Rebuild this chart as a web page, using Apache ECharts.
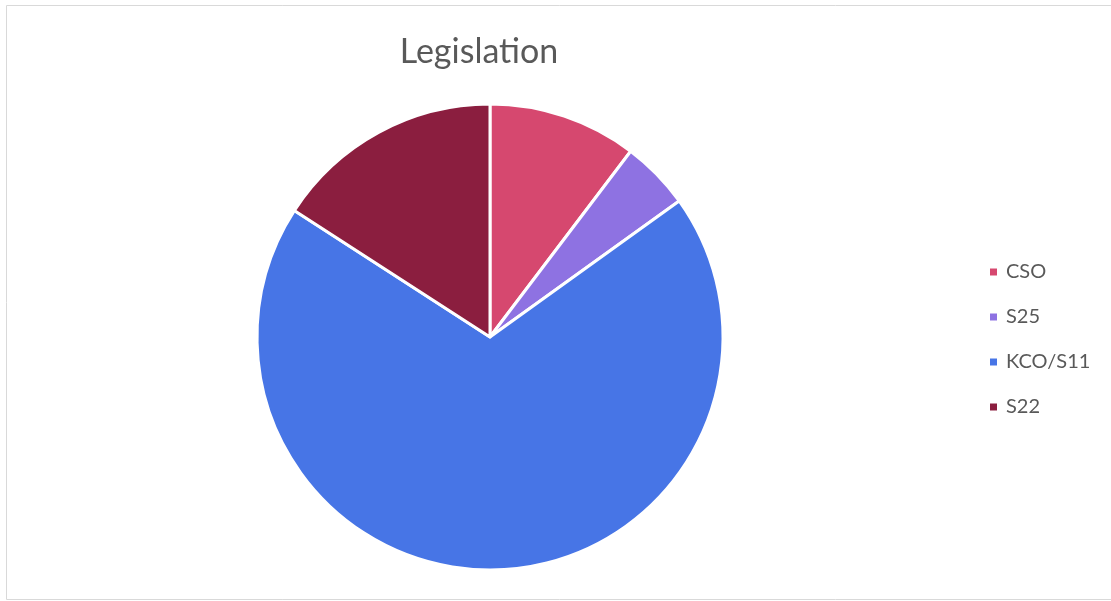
<!DOCTYPE html>
<html><head><meta charset="utf-8">
<script src="https://cdn.jsdelivr.net/npm/echarts@6/dist/echarts.min.js"></script>
<style>html,body{margin:0;padding:0;background:#fff}#c{width:1111px;height:601px}</style>
</head><body><div id="c"></div>
<script>
const categories = ['CSO', 'S25', 'KCO/S11', 'S22'];
const values = [13, 6, 87, 20];
const colors = ['#D6486F', '#8E72E2', '#4775E6', '#8B1E3F'];
const chart = echarts.init(document.getElementById('c'), null, {renderer: 'canvas'});
chart.setOption({
  animation: false,
  color: colors,
  title: {
    text: 'Legislation', left: 474, top: 30, textAlign: 'center',
    textStyle: {fontFamily: 'Lato', fontSize: 34, fontWeight: 'normal', color: '#595959'}
  },
  legend: {
    orient: 'vertical', left: 983, top: 257, itemGap: 25, itemWidth: 9, itemHeight: 9, icon: 'rect',
    data: categories,
    textStyle: {fontFamily: 'Lato', fontSize: 20, color: '#595959', padding: [0,0,0,3]}
  },
  graphic: [{type: 'rect', shape: {x: 6.5, y: 5.5, width: 1110, height: 594}, style: {fill: 'none', stroke: '#d9d9d9', lineWidth: 1}, silent: true}],
  series: [{
    type: 'pie', center: [490, 337], radius: [0, 233], startAngle: 90, clockwise: true,
    label: {show: false}, labelLine: {show: false},
    itemStyle: {borderColor: '#fff', borderWidth: 3},
    data: categories.map((n, i) => ({name: n, value: values[i]}))
  }]
});
</script></body></html>
